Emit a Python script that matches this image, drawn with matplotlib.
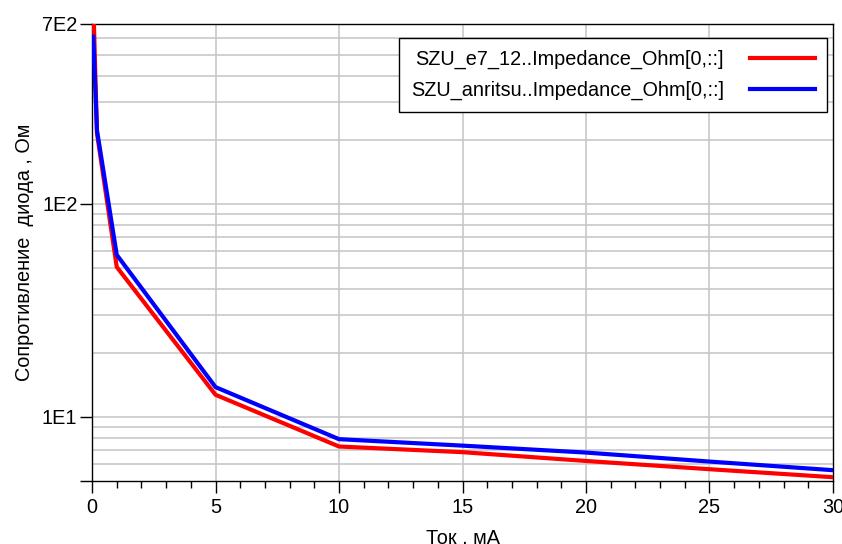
import numpy as np
import matplotlib
matplotlib.use("Agg")
import matplotlib.pyplot as plt
from matplotlib.ticker import FixedLocator, FixedFormatter, NullFormatter

plt.rcParams['font.family'] = ['Liberation Sans', 'DejaVu Sans']

# current, mA
current = [0.05, 0.2, 1, 5, 10, 15, 20, 25, 30]
# diode impedance, Ohm
z_e7 = [900, 215, 50.6, 12.7, 7.26, 6.83, 6.21, 5.68, 5.21]
z_anritsu = [610, 222, 57.7, 13.8, 7.86, 7.33, 6.80, 6.17, 5.62]

label_e7 = "SZU_e7_12..Impedance_Ohm[0,::]"
label_anritsu = "SZU_anritsu..Impedance_Ohm[0,::]"

y_ticks = [5, 10, 100, 700]
y_ticklabels = ['', '1E1', '1E2', '7E2']
y_grid = [6, 7, 8, 9, 10, 20, 30, 40, 50, 60, 70, 80, 90, 100, 200, 300, 400, 500, 600]
x_ticks = [0, 5, 10, 15, 20, 25, 30]

fs = 14.3

fig = plt.figure(figsize=(8.42, 5.44), dpi=100)
ax = fig.add_axes([0.1093, 0.1158, 0.88, 0.8401])

ax.plot(current, z_e7, color='#ff0000', lw=3, label=label_e7, zorder=3)
ax.plot(current, z_anritsu, color='#0000ff', lw=3, label=label_anritsu, zorder=3)

ax.set_yscale('log')
ax.set_xlim(0, 30)
ax.set_ylim(5, 700)

# horizontal grid lines at every 1-9 multiple
for v in y_grid:
    ax.axhline(v, color='#c8c8c8', lw=1.2, zorder=1)
for v in x_ticks[1:-1]:
    ax.axvline(v, color='#c8c8c8', lw=1.2, zorder=1)

ax.yaxis.set_major_locator(FixedLocator(y_ticks))
ax.yaxis.set_major_formatter(FixedFormatter(y_ticklabels))
ax.yaxis.set_minor_locator(FixedLocator([]))
ax.yaxis.set_minor_formatter(NullFormatter())
ax.set_xticks(x_ticks)
ax.set_xticks(np.arange(0, 31, 1), minor=True)

ax.tick_params(axis='both', which='major', direction='out', length=8.5, width=1,
               labelsize=fs, pad=4, color='black')
ax.tick_params(axis='x', which='minor', direction='out', length=5, width=1)
ax.tick_params(axis='y', which='major', pad=2)

for s in ax.spines.values():
    s.set_color('black')
    s.set_linewidth(1)

ax.set_xlabel("Ток , мА", fontsize=fs, labelpad=8)
ax.set_ylabel("Сопротивление  диода , Ом", fontsize=fs, labelpad=6)

leg = ax.legend(loc='upper right', bbox_to_anchor=(0.992, 0.969), borderaxespad=0,
                markerfirst=False, handlelength=3.3, fontsize=fs, fancybox=False,
                frameon=True, framealpha=1, edgecolor='black', borderpad=0.6,
                labelspacing=0.6, handletextpad=1.3)
leg.get_frame().set_linewidth(1)

fig.savefig("out.png", dpi=100)
